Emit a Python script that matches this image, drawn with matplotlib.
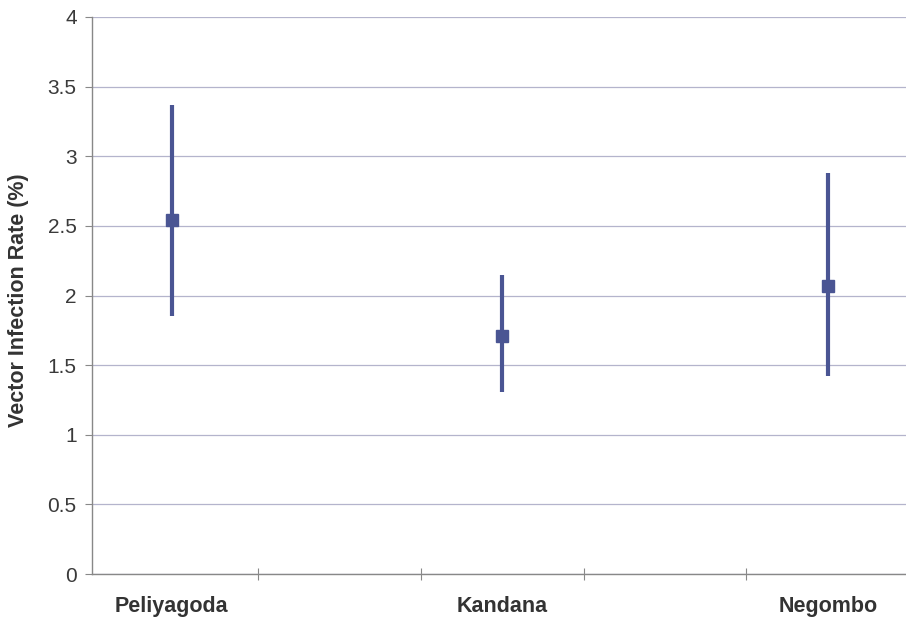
import matplotlib
matplotlib.use("Agg")
import matplotlib.pyplot as plt
from matplotlib.ticker import FixedLocator

sites = ["Peliyagoda", "Kandana", "Negombo"]
site_pos = [0.47, 2.5, 4.5]
rate = [2.54, 1.71, 2.07]
upper = [3.37, 2.15, 2.88]
lower = [1.85, 1.31, 1.42]
yticks = [0, 0.5, 1, 1.5, 2, 2.5, 3, 3.5, 4]
ytick_labels = ['0', '0.5', '1', '1.5', '2', '2.5', '3', '3.5', '4']

plt.rcParams['font.family'] = ['Liberation Sans', 'DejaVu Sans']

fig = plt.figure(figsize=(9.06, 6.22), dpi=100)
ax = fig.add_axes([92/906, 48/622, 1 - 92/906, (574-17)/622])

col = '#4a5593'
err_lo = [r - l for r, l in zip(rate, lower)]
err_hi = [u - r for r, u in zip(rate, upper)]
ax.errorbar(site_pos, rate, yerr=[err_lo, err_hi], fmt='s', color=col,
            ecolor=col, elinewidth=3, markersize=8, capsize=0, zorder=3)

ax.set_xlim(-0.02, 4.98)
ax.set_ylim(0, 4)
ax.set_yticks(yticks, ytick_labels)
ax.grid(axis='y', color='#b4b4cc', linewidth=0.9)
ax.set_axisbelow(True)

ax.xaxis.set_major_locator(FixedLocator([1, 2, 3, 4]))
ax.set_xticklabels([])
ax.set_xticks(site_pos, minor=True)
ax.set_xticklabels(sites, minor=True, fontsize=15.5, fontweight='bold', color='#333333')
ax.tick_params(axis='x', which='minor', length=0, pad=16)
ax.tick_params(axis='x', which='major', direction='inout', length=8, color='#888888')
ax.tick_params(axis='y', which='major', direction='out', length=5, color='#888888',
               labelsize=15, labelcolor='#3a3a3a', pad=6)

for s in ['top', 'right']:
    ax.spines[s].set_visible(False)
for s in ['left', 'bottom']:
    ax.spines[s].set_color('#888888')
    ax.spines[s].set_linewidth(1.0)

ax.set_ylabel('Vector Infection Rate (%)', fontsize=15.5, fontweight='bold', color='#333333')
ax.yaxis.set_label_coords(-0.077, 0.492)

fig.savefig('out.png', dpi=100)
